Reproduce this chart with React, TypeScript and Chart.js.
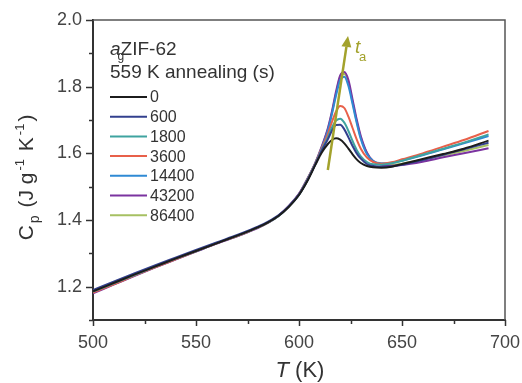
import React, { useEffect, useRef } from "react";
import { Chart, registerables } from "chart.js";
Chart.register(...registerables);

const FONT = '"Liberation Sans", Arial, Helvetica, sans-serif';

const temperatures = [500, 510, 520, 530, 540, 550, 560, 570, 575, 580, 585, 590, 595, 600, 604, 608, 611, 614, 616, 618, 620, 622, 624, 626, 628, 630, 633, 636, 640, 645, 650, 660, 670, 680, 692];

const seriesLabels = ["0", "600", "1800", "3600", "14400", "43200", "86400"];

const cp0 = [1.186, 1.211, 1.236, 1.26, 1.284, 1.307, 1.33, 1.353, 1.365, 1.378, 1.393, 1.412, 1.439, 1.475, 1.516, 1.566, 1.602, 1.628, 1.64, 1.645, 1.641, 1.63, 1.614, 1.597, 1.582, 1.571, 1.562, 1.558, 1.557, 1.56, 1.568, 1.583, 1.598, 1.614, 1.638];
const cp600 = [1.19, 1.215, 1.24, 1.264, 1.287, 1.31, 1.333, 1.355, 1.367, 1.38, 1.395, 1.414, 1.441, 1.477, 1.518, 1.568, 1.608, 1.642, 1.668, 1.685, 1.686, 1.672, 1.648, 1.622, 1.6, 1.584, 1.568, 1.562, 1.56, 1.561, 1.566, 1.58, 1.596, 1.612, 1.632];
const cp1800 = [1.185, 1.21, 1.235, 1.26, 1.284, 1.307, 1.331, 1.353, 1.365, 1.378, 1.393, 1.412, 1.44, 1.476, 1.519, 1.569, 1.61, 1.648, 1.678, 1.698, 1.704, 1.692, 1.667, 1.637, 1.61, 1.591, 1.574, 1.567, 1.566, 1.57, 1.578, 1.596, 1.614, 1.632, 1.657];
const cp3600 = [1.182, 1.207, 1.233, 1.258, 1.282, 1.306, 1.33, 1.352, 1.364, 1.377, 1.392, 1.412, 1.44, 1.477, 1.52, 1.571, 1.614, 1.658, 1.694, 1.726, 1.742, 1.736, 1.71, 1.676, 1.642, 1.614, 1.587, 1.574, 1.569, 1.573, 1.582, 1.6, 1.62, 1.64, 1.667];
const cp14400 = [1.184, 1.209, 1.234, 1.259, 1.283, 1.306, 1.33, 1.352, 1.364, 1.377, 1.392, 1.411, 1.44, 1.476, 1.52, 1.571, 1.616, 1.668, 1.718, 1.774, 1.82, 1.83, 1.802, 1.748, 1.692, 1.643, 1.597, 1.577, 1.57, 1.572, 1.578, 1.594, 1.612, 1.63, 1.652];
const cp43200 = [1.18, 1.206, 1.232, 1.257, 1.281, 1.305, 1.329, 1.351, 1.363, 1.376, 1.392, 1.413, 1.442, 1.479, 1.523, 1.573, 1.62, 1.675, 1.726, 1.786, 1.834, 1.844, 1.82, 1.762, 1.702, 1.652, 1.602, 1.577, 1.566, 1.563, 1.565, 1.575, 1.588, 1.6, 1.615];
const cp86400 = [1.182, 1.207, 1.233, 1.258, 1.282, 1.306, 1.33, 1.352, 1.364, 1.377, 1.392, 1.412, 1.441, 1.478, 1.522, 1.572, 1.618, 1.672, 1.722, 1.78, 1.83, 1.838, 1.812, 1.754, 1.696, 1.647, 1.6, 1.576, 1.567, 1.565, 1.569, 1.581, 1.594, 1.607, 1.625];

const seriesValues = [cp0, cp600, cp1800, cp3600, cp14400, cp43200, cp86400];
const seriesColors = ["#1c1c1c", "#33408e", "#3fa3a0", "#e8604a", "#2f8ad4", "#7b33a0", "#a6c062"];

const xMin = 500, xMax = 700, xStep = 25, xLabelEvery = 50;
const yMin = 1.1, yMax = 2.0, yStep = 0.1;

// arrow annotation (data coordinates)
const arrowFrom = [614, 1.55];
const arrowTo = [623.8, 1.952];
const arrowColor = "#a3a22c";

const legendTitle1 = ["a", "g", "ZIF-62"];
const legendTitle2 = "559 K annealing (s)";

const decorPlugin = {
  id: "decor",
  afterDraw(chart: any) {
    const { ctx, chartArea: a, scales } = chart;
    const x = scales.x, y = scales.y;
    ctx.save();
    // top / right frame
    ctx.strokeStyle = "#555";
    ctx.lineWidth = 1.5;
    ctx.beginPath();
    ctx.moveTo(a.left, a.top);
    ctx.lineTo(a.right, a.top);
    ctx.lineTo(a.right, a.bottom);
    ctx.stroke();
    // ticks
    ctx.strokeStyle = "#333";
    ctx.lineWidth = 1.5;
    for (const t of x.ticks) {
      const px = Math.round(x.getPixelForValue(t.value)) + 0.5;
      const major = Math.round(t.value) % xLabelEvery === 0;
      ctx.beginPath();
      ctx.moveTo(px, a.bottom);
      ctx.lineTo(px, a.bottom + (major ? 6 : 4));
      ctx.stroke();
    }
    for (const t of y.ticks) {
      const py = Math.round(y.getPixelForValue(t.value)) + 0.5;
      const major = Math.round(t.value * 10) % 2 === 0;
      ctx.beginPath();
      ctx.moveTo(a.left, py);
      ctx.lineTo(a.left - (major ? 7 : 4), py);
      ctx.stroke();
    }
    // arrow
    const x0 = x.getPixelForValue(arrowFrom[0]), y0 = y.getPixelForValue(arrowFrom[1]);
    const x1 = x.getPixelForValue(arrowTo[0]), y1 = y.getPixelForValue(arrowTo[1]);
    const ang = Math.atan2(y1 - y0, x1 - x0);
    const headLen = 11, headW = 5;
    const bx = x1 - headLen * Math.cos(ang), by = y1 - headLen * Math.sin(ang);
    ctx.strokeStyle = arrowColor;
    ctx.fillStyle = arrowColor;
    ctx.lineWidth = 2.5;
    ctx.beginPath();
    ctx.moveTo(x0, y0);
    ctx.lineTo(bx, by);
    ctx.stroke();
    ctx.beginPath();
    ctx.moveTo(x1, y1);
    ctx.lineTo(bx + headW * Math.sin(ang), by - headW * Math.cos(ang));
    ctx.lineTo(bx - headW * Math.sin(ang), by + headW * Math.cos(ang));
    ctx.closePath();
    ctx.fill();
    ctx.textBaseline = "alphabetic";
    ctx.textAlign = "left";
    ctx.font = `italic 19px ${FONT}`;
    ctx.fillText("t", x1 + 7, y1 + 17);
    ctx.font = `13px ${FONT}`;
    ctx.fillText("a", x1 + 11, y1 + 25);

    // legend
    const lx = a.left + 17;
    ctx.fillStyle = "#333";
    ctx.font = `italic 19px ${FONT}`;
    ctx.fillText(legendTitle1[0], lx, a.top + 35);
    const aw = ctx.measureText(legendTitle1[0]).width;
    ctx.font = `12px ${FONT}`;
    ctx.fillText(legendTitle1[1], lx + aw - 3, a.top + 40);
    ctx.font = `19px ${FONT}`;
    ctx.fillText(legendTitle1[2], lx + aw, a.top + 35);
    ctx.fillText(legendTitle2, lx, a.top + 58);
    ctx.font = `16px ${FONT}`;
    ctx.textBaseline = "middle";
    chart.data.datasets.forEach((ds: any, i: number) => {
      const ry = a.top + 77 + i * 19.7;
      ctx.strokeStyle = ds.borderColor;
      ctx.lineWidth = 2;
      ctx.beginPath();
      ctx.moveTo(lx, ry);
      ctx.lineTo(lx + 37, ry);
      ctx.stroke();
      ctx.fillStyle = "#333";
      ctx.fillText(ds.label, lx + 40, ry + 1);
    });

    // x title
    ctx.textBaseline = "alphabetic";
    ctx.fillStyle = "#333";
    ctx.font = `italic 22px ${FONT}`;
    const tW = ctx.measureText("T").width;
    ctx.font = `22px ${FONT}`;
    const kW = ctx.measureText(" (K)").width;
    const cx = 300;
    const sx = cx - (tW + kW) / 2;
    ctx.font = `italic 22px ${FONT}`;
    ctx.fillText("T", sx, 377);
    ctx.font = `22px ${FONT}`;
    ctx.fillText(" (K)", sx + tW, 377);

    // y title (rotated)
    const parts: [string, number, number][] = [
      ["C", 21, 0],
      ["p", 14, 6],
      [" (J g", 21, 0],
      ["-1", 13, -9],
      [" K", 21, 0],
      ["-1", 13, -9],
      [")", 21, 0],
    ];
    const gap = 2;
    let total = 0;
    const widths: number[] = [];
    for (const p of parts) {
      ctx.font = `${p[1]}px ${FONT}`;
      const w = ctx.measureText(p[0]).width;
      widths.push(w);
      total += w + gap;
    }
    total -= gap;
    ctx.translate(33, 177.5);
    ctx.rotate(-Math.PI / 2);
    let px = -total / 2;
    parts.forEach((p, i) => {
      ctx.font = `${p[1]}px ${FONT}`;
      ctx.fillText(p[0], px, p[2]);
      px += widths[i] + gap;
    });
    ctx.restore();
  },
};

export default function App() {
  const ref = useRef<HTMLCanvasElement | null>(null);
  useEffect(() => {
    if (!ref.current) return;
    const datasets = seriesLabels.map((label, i) => ({
      label,
      data: temperatures.map((t, j) => ({ x: t, y: seriesValues[i][j] })),
      borderColor: seriesColors[i],
      backgroundColor: seriesColors[i],
      borderWidth: 2,
      pointRadius: 0,
      tension: 0.4,
      cubicInterpolationMode: "monotone" as const,
      fill: false,
    }));
    const chart = new Chart(ref.current, {
      type: "line",
      data: { datasets },
      options: {
        animation: false,
        responsive: true,
        maintainAspectRatio: false,
        layout: { padding: { top: 20, right: 17, left: 0, bottom: 0 } },
        plugins: { legend: { display: false }, tooltip: { enabled: false } },
        scales: {
          x: {
            type: "linear",
            min: xMin,
            max: xMax,
            afterFit: (s: any) => { s.height = 63; s.paddingLeft = 0; s.paddingRight = 0; },
            grid: { display: false, drawTicks: false },
            border: { display: true, color: "#333", width: 2 },
            ticks: {
              stepSize: xStep,
              autoSkip: false,
              maxRotation: 0,
              padding: 12,
              color: "#444",
              font: { size: 18, family: FONT },
              callback: (v: any) => (Math.round(v) % xLabelEvery === 0 ? String(Math.round(v)) : ""),
            },
          },
          y: {
            type: "linear",
            min: yMin,
            max: yMax,
            afterFit: (s: any) => { s.width = 93; s.paddingTop = 0; s.paddingBottom = 0; },
            grid: { display: false, drawTicks: false },
            border: { display: true, color: "#333", width: 2 },
            ticks: {
              stepSize: yStep,
              autoSkip: false,
              padding: 11,
              color: "#444",
              font: { size: 18, family: FONT },
              callback: (v: any) => (Math.round(v * 10) % 2 === 0 ? Number(v).toFixed(1) : ""),
            },
          },
        },
      },
      plugins: [decorPlugin],
    });
    return () => chart.destroy();
  }, []);
  return (
    <div style={{ position: "fixed", left: 0, top: 0, width: 522, height: 383, background: "#fff" }}>
      <canvas ref={ref} />
    </div>
  );
}
